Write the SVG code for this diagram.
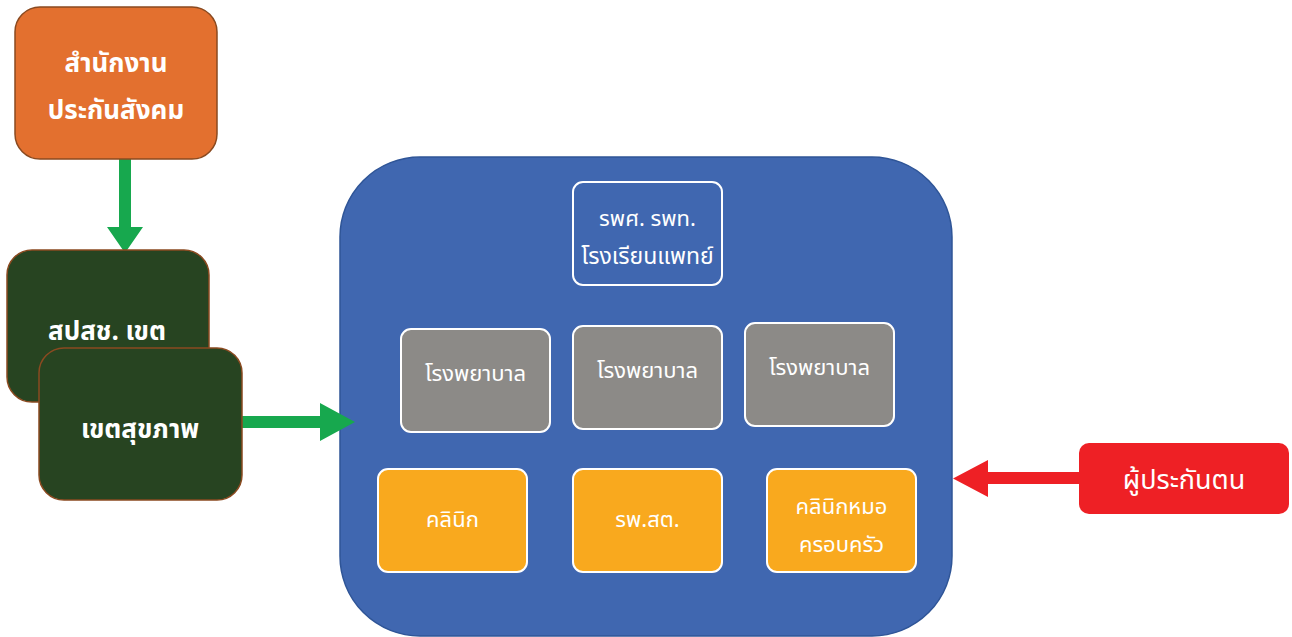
<svg xmlns="http://www.w3.org/2000/svg" width="1292" height="637" viewBox="0 0 1292 637">
<defs>
<style>
.t{font-family:"Noto Sans Thai","Noto Sans Thai Looped","Noto Looped Thai","Tlwg Typo","Loma","Garuda","Noto Sans","DejaVu Sans",sans-serif;fill:#fff;text-anchor:middle}
.b{font-weight:bold;font-size:26px}
.n{font-size:22px}
.inner{stroke:#fff;stroke-width:2}
.gray{fill:#8C8A87}
.org{fill:#F9A91E}
.dg{fill:#274421;stroke:#8B4A20;stroke-width:1.5}
</style>
</defs>
<rect width="1292" height="637" fill="#fff"/>
<g id="network">
<rect x="340" y="157" width="612" height="479" rx="80" fill="#4067B0" stroke="#2F5597" stroke-width="1.5"/>
</g>
<g id="connectors">
<path d="M119,159 H131 V227 H143 L125,253 L107,227 H119 Z" fill="#17A84E"/>
<path d="M242,416 H320 V403 L355,422 L320,441 V428 H242 Z" fill="#17A84E"/>
<path d="M1079,472 H988 V460 L953,478.5 L988,497 V484 H1079 Z" fill="#EE2025"/>
</g>
<g id="sso">
<rect x="15" y="7" width="202" height="152" rx="25" fill="#E3702F" stroke="#8B4A20" stroke-width="1.5"/>
<text class="t b" x="116" y="72">สำนักงาน</text>
<text class="t b" x="116" y="119">ประกันสังคม</text>
</g>
<g id="nhso">
<rect class="dg" x="7" y="250" width="202" height="152" rx="25"/>
<text class="t b" x="107" y="340">สปสช. เขต</text>
</g>
<g id="health-region">
<rect class="dg" x="39" y="348" width="203" height="152" rx="25"/>
<text class="t b" x="140" y="438">เขตสุขภาพ</text>
</g>
<g id="school-hospital">
<rect class="inner" x="573" y="182" width="149" height="103" rx="10" fill="#4067B0"/>
<text class="t n" x="647.5" y="226">รพศ. รพท.</text>
<text class="t" x="647.5" y="264" font-size="23">โรงเรียนแพทย์</text>
</g>
<g id="hospital-1">
<rect class="inner gray" x="401" y="329" width="149" height="103" rx="10"/>
<text class="t n" x="475.5" y="381">โรงพยาบาล</text>
</g>
<g id="hospital-2">
<rect class="inner gray" x="573" y="326" width="149" height="103" rx="10"/>
<text class="t n" x="647.5" y="378">โรงพยาบาล</text>
</g>
<g id="hospital-3">
<rect class="inner gray" x="745" y="323" width="149" height="103" rx="10"/>
<text class="t n" x="819.5" y="375">โรงพยาบาล</text>
</g>
<g id="clinic">
<rect class="inner org" x="378" y="469" width="149" height="103" rx="10"/>
<text class="t n" x="452.5" y="527">คลินิก</text>
</g>
<g id="hpc">
<rect class="inner org" x="573" y="469" width="149" height="103" rx="10"/>
<text class="t n" x="647.5" y="527">รพ.สต.</text>
</g>
<g id="family-clinic">
<rect class="inner org" x="767" y="469" width="149" height="103" rx="10"/>
<text class="t n" x="841.5" y="514">คลินิกหมอ</text>
<text class="t n" x="841.5" y="552">ครอบครัว</text>
</g>
<g id="insured">
<rect x="1079" y="443" width="210" height="71" rx="10" fill="#EE2025"/>
<text class="t" x="1184" y="489" font-size="27">ผู้ประกันตน</text>
</g>
</svg>
